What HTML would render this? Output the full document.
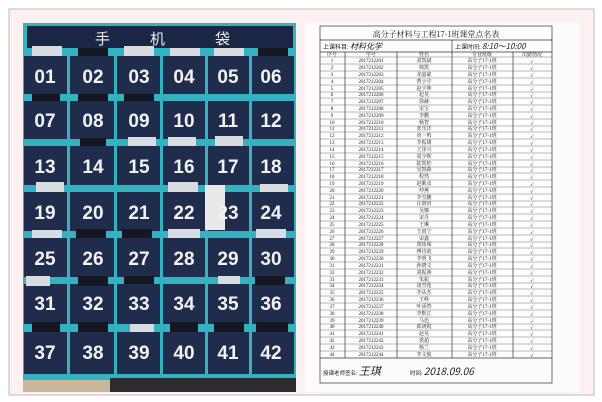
<!DOCTYPE html>
<html><head><meta charset="utf-8"><style>
body{margin:0;width:602px;height:402px;background:#fff;overflow:hidden}
svg{display:block}
.n{font-family:"Liberation Sans",sans-serif;font-weight:bold;font-size:19px;fill:#f2f2f2;text-anchor:middle}
.t{font-family:"Liberation Serif","Noto Serif CJK SC",serif;font-size:5px;fill:#222;text-anchor:middle}
</style></head><body>
<svg width="602" height="402" viewBox="0 0 602 402">
<rect x="9" y="9" width="585" height="386" fill="#fcf0f0" stroke="#bbb" stroke-width="1"/>
<!-- photo -->
<rect x="23" y="23" width="273" height="369" fill="#2a3142"/>
<rect x="23" y="23" width="273" height="357" fill="#33b3c2"/>
<rect x="27" y="26" width="266" height="22" fill="#1b2644"/>
<text x="95" y="44" font-family="Noto Sans CJK SC,sans-serif" font-size="15" fill="#eee">手</text>
<text x="150" y="44" font-family="Noto Sans CJK SC,sans-serif" font-size="15" fill="#eee">机</text>
<text x="215" y="44" font-family="Noto Sans CJK SC,sans-serif" font-size="15" fill="#eee">袋</text>
<g fill="#1f2c4b">
<!-- rows of pockets: y tops 56,101,146,192,238,284,332 height 38 -->
<rect x="24" y="56" width="43" height="38"/><rect x="70" y="56" width="44" height="38"/><rect x="117" y="56" width="43" height="38"/><rect x="163" y="56" width="42" height="38"/><rect x="208" y="56" width="41" height="38"/><rect x="252" y="56" width="42" height="38"/>
<rect x="24" y="101" width="43" height="38"/><rect x="70" y="101" width="44" height="38"/><rect x="117" y="101" width="43" height="38"/><rect x="163" y="101" width="42" height="38"/><rect x="208" y="101" width="41" height="38"/><rect x="252" y="101" width="42" height="38"/>
<rect x="24" y="146" width="43" height="39"/><rect x="70" y="146" width="44" height="39"/><rect x="117" y="146" width="43" height="39"/><rect x="163" y="146" width="42" height="39"/><rect x="208" y="146" width="41" height="39"/><rect x="252" y="146" width="42" height="39"/>
<rect x="24" y="192" width="43" height="39"/><rect x="70" y="192" width="44" height="39"/><rect x="117" y="192" width="43" height="39"/><rect x="163" y="192" width="42" height="39"/><rect x="208" y="192" width="41" height="39"/><rect x="252" y="192" width="42" height="39"/>
<rect x="24" y="238" width="43" height="39"/><rect x="70" y="238" width="44" height="39"/><rect x="117" y="238" width="43" height="39"/><rect x="163" y="238" width="42" height="39"/><rect x="208" y="238" width="41" height="39"/><rect x="252" y="238" width="42" height="39"/>
<rect x="24" y="284" width="43" height="40"/><rect x="70" y="284" width="44" height="40"/><rect x="117" y="284" width="43" height="40"/><rect x="163" y="284" width="42" height="40"/><rect x="208" y="284" width="41" height="40"/><rect x="252" y="284" width="42" height="40"/>
<rect x="24" y="332" width="43" height="42"/><rect x="70" y="332" width="44" height="42"/><rect x="117" y="332" width="43" height="42"/><rect x="163" y="332" width="42" height="42"/><rect x="208" y="332" width="41" height="42"/><rect x="252" y="332" width="42" height="42"/>
</g>
<rect x="23" y="380" width="273" height="12" fill="#c9b79a"/>
<rect x="110" y="378" width="186" height="14" fill="#2b2d33"/>
<!-- phones -->
<g fill="#d8dde2">
<rect x="32" y="46" width="30" height="10"/><rect x="124" y="46" width="30" height="10"/><rect x="170" y="48" width="30" height="8"/><rect x="214" y="48" width="30" height="8"/>
<rect x="128" y="137" width="28" height="9"/><rect x="168" y="137" width="28" height="9"/><rect x="215" y="136" width="28" height="10"/>
<rect x="36" y="182" width="28" height="10"/><rect x="168" y="182" width="30" height="10"/><rect x="260" y="184" width="28" height="8"/>
<rect x="32" y="230" width="30" height="8"/><rect x="168" y="229" width="32" height="9"/><rect x="256" y="229" width="30" height="9"/>
<rect x="26" y="276" width="24" height="10"/><rect x="218" y="276" width="22" height="8"/>
<rect x="130" y="324" width="24" height="8"/>
<rect x="205" y="185" width="20" height="45" fill="#e8eaea"/>
</g>
<g fill="#151820">
<rect x="78" y="48" width="30" height="8"/><rect x="258" y="48" width="30" height="8"/>
<rect x="32" y="94" width="28" height="7"/><rect x="78" y="94" width="30" height="7"/><rect x="124" y="94" width="30" height="7"/>
<rect x="80" y="138" width="26" height="8"/><rect x="76" y="229" width="30" height="9"/><rect x="122" y="229" width="30" height="9"/>
<rect x="78" y="276" width="30" height="10"/><rect x="124" y="276" width="30" height="8"/><rect x="255" y="276" width="30" height="9"/>
<rect x="32" y="322" width="28" height="10"/><rect x="78" y="322" width="30" height="10"/><rect x="170" y="322" width="28" height="10"/><rect x="214" y="322" width="30" height="10"/><rect x="256" y="322" width="32" height="10"/>
</g>
<g class="n">
<text x="45" y="83">01</text><text x="93" y="83">02</text><text x="139" y="83">03</text><text x="184" y="83">04</text><text x="228" y="83">05</text><text x="271" y="83">06</text>
<text x="45" y="127">07</text><text x="93" y="127">08</text><text x="139" y="127">09</text><text x="184" y="127">10</text><text x="228" y="127">11</text><text x="271" y="127">12</text>
<text x="45" y="173">13</text><text x="93" y="173">14</text><text x="139" y="173">15</text><text x="184" y="173">16</text><text x="228" y="173">17</text><text x="271" y="173">18</text>
<text x="45" y="219">19</text><text x="93" y="219">20</text><text x="139" y="219">21</text><text x="184" y="219">22</text><text x="228" y="219">23</text><text x="271" y="219">24</text>
<text x="45" y="265">25</text><text x="93" y="265">26</text><text x="139" y="265">27</text><text x="184" y="265">28</text><text x="228" y="265">29</text><text x="271" y="265">30</text>
<text x="45" y="310">31</text><text x="93" y="310">32</text><text x="139" y="310">33</text><text x="184" y="310">34</text><text x="228" y="310">35</text><text x="271" y="310">36</text>
<text x="45" y="359">37</text><text x="93" y="359">38</text><text x="139" y="359">39</text><text x="184" y="359">40</text><text x="228" y="359">41</text><text x="271" y="359">42</text>
</g>
<!-- paper -->
<rect x="305" y="23" width="275" height="369" fill="#fdfbfb"/>
<g stroke="#333" stroke-width="0.7" fill="none">
<rect x="320" y="26" width="232" height="357"/>
<line x1="320" y1="40" x2="552" y2="40"/><line x1="320" y1="52" x2="552" y2="52"/><line x1="452" y1="40" x2="452" y2="52"/>
<line x1="320" y1="358" x2="552" y2="358"/>
<line x1="345" y1="52" x2="345" y2="358"/><line x1="397" y1="52" x2="397" y2="358"/><line x1="452" y1="52" x2="452" y2="358"/><line x1="513" y1="52" x2="513" y2="358"/>
</g>
<g stroke="#555" stroke-width="0.4">
<line x1="320" y1="57" x2="552" y2="57"/>
<line x1="320" y1="64" x2="552" y2="64"/><line x1="320" y1="71" x2="552" y2="71"/><line x1="320" y1="78" x2="552" y2="78"/><line x1="320" y1="85" x2="552" y2="85"/><line x1="320" y1="92" x2="552" y2="92"/><line x1="320" y1="98" x2="552" y2="98"/><line x1="320" y1="105" x2="552" y2="105"/><line x1="320" y1="112" x2="552" y2="112"/><line x1="320" y1="119" x2="552" y2="119"/><line x1="320" y1="126" x2="552" y2="126"/><line x1="320" y1="132" x2="552" y2="132"/><line x1="320" y1="139" x2="552" y2="139"/><line x1="320" y1="146" x2="552" y2="146"/><line x1="320" y1="153" x2="552" y2="153"/><line x1="320" y1="160" x2="552" y2="160"/><line x1="320" y1="167" x2="552" y2="167"/><line x1="320" y1="173" x2="552" y2="173"/><line x1="320" y1="180" x2="552" y2="180"/><line x1="320" y1="187" x2="552" y2="187"/><line x1="320" y1="194" x2="552" y2="194"/><line x1="320" y1="201" x2="552" y2="201"/><line x1="320" y1="207" x2="552" y2="207"/><line x1="320" y1="214" x2="552" y2="214"/><line x1="320" y1="221" x2="552" y2="221"/><line x1="320" y1="228" x2="552" y2="228"/><line x1="320" y1="235" x2="552" y2="235"/><line x1="320" y1="242" x2="552" y2="242"/><line x1="320" y1="248" x2="552" y2="248"/><line x1="320" y1="255" x2="552" y2="255"/><line x1="320" y1="262" x2="552" y2="262"/><line x1="320" y1="269" x2="552" y2="269"/><line x1="320" y1="276" x2="552" y2="276"/><line x1="320" y1="283" x2="552" y2="283"/><line x1="320" y1="289" x2="552" y2="289"/><line x1="320" y1="296" x2="552" y2="296"/><line x1="320" y1="303" x2="552" y2="303"/><line x1="320" y1="310" x2="552" y2="310"/><line x1="320" y1="317" x2="552" y2="317"/><line x1="320" y1="324" x2="552" y2="324"/><line x1="320" y1="330" x2="552" y2="330"/><line x1="320" y1="337" x2="552" y2="337"/><line x1="320" y1="344" x2="552" y2="344"/><line x1="320" y1="351" x2="552" y2="351"/>
</g>
<text x="436" y="37" font-family="Noto Serif CJK SC,serif" font-size="8" fill="#222" text-anchor="middle">高分子材料与工程17-1班课堂点名表</text>
<text x="323" y="49" font-family="Noto Sans CJK SC,sans-serif" font-size="6" fill="#222">上课科目: <tspan font-size="8" font-style="italic">材料化学</tspan></text>
<text x="455" y="49" font-family="Noto Sans CJK SC,sans-serif" font-size="6" fill="#222">上课时间: <tspan font-size="8" font-style="italic">8:10～10:00</tspan></text>
<g class="t" font-size="4.5">
<text x="332" y="56">序号</text><text x="371" y="56">学号</text><text x="424" y="56">姓名</text><text x="482" y="56">专业班级</text><text x="532" y="56">出勤情况</text>
</g>
<g class="t">
<text x="332" y="62">1</text><text x="332" y="69">2</text><text x="332" y="76">3</text><text x="332" y="83">4</text><text x="332" y="90">5</text><text x="332" y="96">6</text><text x="332" y="103">7</text><text x="332" y="110">8</text><text x="332" y="117">9</text><text x="332" y="124">10</text><text x="332" y="130">11</text><text x="332" y="137">12</text><text x="332" y="144">13</text><text x="332" y="151">14</text><text x="332" y="158">15</text><text x="332" y="165">16</text><text x="332" y="171">17</text><text x="332" y="178">18</text><text x="332" y="185">19</text><text x="332" y="192">20</text><text x="332" y="199">21</text><text x="332" y="205">22</text><text x="332" y="212">23</text><text x="332" y="219">24</text><text x="332" y="226">25</text><text x="332" y="233">26</text><text x="332" y="240">27</text><text x="332" y="246">28</text><text x="332" y="253">29</text><text x="332" y="260">30</text><text x="332" y="267">31</text><text x="332" y="274">32</text><text x="332" y="281">33</text><text x="332" y="287">34</text><text x="332" y="294">35</text><text x="332" y="301">36</text><text x="332" y="308">37</text><text x="332" y="315">38</text><text x="332" y="322">39</text><text x="332" y="328">40</text><text x="332" y="335">41</text><text x="332" y="342">42</text><text x="332" y="349">43</text><text x="332" y="356">44</text>
<text x="371" y="62">2017212201</text><text x="371" y="69">2017212202</text><text x="371" y="76">2017212203</text><text x="371" y="83">2017212204</text><text x="371" y="90">2017212205</text><text x="371" y="96">2017212206</text><text x="371" y="103">2017212207</text><text x="371" y="110">2017212208</text><text x="371" y="117">2017212209</text><text x="371" y="124">2017212210</text><text x="371" y="130">2017212211</text><text x="371" y="137">2017212212</text><text x="371" y="144">2017212213</text><text x="371" y="151">2017212214</text><text x="371" y="158">2017212215</text><text x="371" y="165">2017212216</text><text x="371" y="171">2017212217</text><text x="371" y="178">2017212218</text><text x="371" y="185">2017212219</text><text x="371" y="192">2017212220</text><text x="371" y="199">2017212221</text><text x="371" y="205">2017212222</text><text x="371" y="212">2017212223</text><text x="371" y="219">2017212224</text><text x="371" y="226">2017212225</text><text x="371" y="233">2017212226</text><text x="371" y="240">2017212227</text><text x="371" y="246">2017212228</text><text x="371" y="253">2017212229</text><text x="371" y="260">2017212230</text><text x="371" y="267">2017212231</text><text x="371" y="274">2017212232</text><text x="371" y="281">2017212233</text><text x="371" y="287">2017212234</text><text x="371" y="294">2017212235</text><text x="371" y="301">2017212236</text><text x="371" y="308">2017212237</text><text x="371" y="315">2017212238</text><text x="371" y="322">2017212239</text><text x="371" y="328">2017212240</text><text x="371" y="335">2017212241</text><text x="371" y="342">2017212242</text><text x="371" y="349">2017212243</text><text x="371" y="356">2017212244</text>
<text x="424" y="62">刘凯斌</text><text x="424" y="69">韩凯</text><text x="424" y="76">龙嘉豪</text><text x="424" y="83">曹小宇</text><text x="424" y="90">赵宇坤</text><text x="424" y="96">起昊</text><text x="424" y="103">徐赫</text><text x="424" y="110">宋宝</text><text x="424" y="117">李鹏</text><text x="424" y="124">杨智</text><text x="424" y="130">张乐洋</text><text x="424" y="137">章一鸣</text><text x="424" y="144">李振雄</text><text x="424" y="151">王泽兴</text><text x="424" y="158">周少辉</text><text x="424" y="165">陆凯伦</text><text x="424" y="171">吴凯森</text><text x="424" y="178">程然</text><text x="424" y="185">赵紫彦</text><text x="424" y="192">仲燕</text><text x="424" y="199">李雪鹏</text><text x="424" y="205">汪润田</text><text x="424" y="212">吴娜</text><text x="424" y="219">宋丹</text><text x="424" y="226">王琳</text><text x="424" y="233">王雨宁</text><text x="424" y="240">宋鑫</text><text x="424" y="246">郑炜琛</text><text x="424" y="253">傅诗韵</text><text x="424" y="260">李明飞</text><text x="424" y="267">孙晓文</text><text x="424" y="274">刘振洲</text><text x="424" y="281">朱振</text><text x="424" y="287">汤雪莲</text><text x="424" y="294">李从杰</text><text x="424" y="301">王峥</text><text x="424" y="308">叶添然</text><text x="424" y="315">李默江</text><text x="424" y="322">马迅</text><text x="424" y="328">邱庚锐</text><text x="424" y="335">赵昊</text><text x="424" y="342">裘超</text><text x="424" y="349">杨兰</text><text x="424" y="356">李文俊</text>
</g>
<g class="t" font-family="Noto Sans CJK SC,sans-serif">
<text x="482" y="62">高分子17-1班</text><text x="482" y="69">高分子17-1班</text><text x="482" y="76">高分子17-1班</text><text x="482" y="83">高分子17-1班</text><text x="482" y="90">高分子17-1班</text><text x="482" y="96">高分子17-1班</text><text x="482" y="103">高分子17-1班</text><text x="482" y="110">高分子17-1班</text><text x="482" y="117">高分子17-1班</text><text x="482" y="124">高分子17-1班</text><text x="482" y="130">高分子17-1班</text><text x="482" y="137">高分子17-1班</text><text x="482" y="144">高分子17-1班</text><text x="482" y="151">高分子17-1班</text><text x="482" y="158">高分子17-1班</text><text x="482" y="165">高分子17-1班</text><text x="482" y="171">高分子17-1班</text><text x="482" y="178">高分子17-1班</text><text x="482" y="185">高分子17-1班</text><text x="482" y="192">高分子17-1班</text><text x="482" y="199">高分子17-1班</text><text x="482" y="205">高分子17-1班</text><text x="482" y="212">高分子17-1班</text><text x="482" y="219">高分子17-1班</text><text x="482" y="226">高分子17-1班</text><text x="482" y="233">高分子17-1班</text><text x="482" y="240">高分子17-1班</text><text x="482" y="246">高分子17-1班</text><text x="482" y="253">高分子17-1班</text><text x="482" y="260">高分子17-1班</text><text x="482" y="267">高分子17-1班</text><text x="482" y="274">高分子17-1班</text><text x="482" y="281">高分子17-1班</text><text x="482" y="287">高分子17-1班</text><text x="482" y="294">高分子17-1班</text><text x="482" y="301">高分子17-1班</text><text x="482" y="308">高分子17-1班</text><text x="482" y="315">高分子17-1班</text><text x="482" y="322">高分子17-1班</text><text x="482" y="328">高分子17-1班</text><text x="482" y="335">高分子17-1班</text><text x="482" y="342">高分子17-1班</text><text x="482" y="349">高分子17-1班</text><text x="482" y="356">高分子17-1班</text>
</g>
<g class="t" font-size="8" font-family="DejaVu Sans,sans-serif">
<text x="532" y="63">✓</text><text x="532" y="70">✓</text><text x="532" y="77">✓</text><text x="532" y="84">✓</text><text x="532" y="91">✓</text><text x="532" y="97">✓</text><text x="532" y="104">✓</text><text x="532" y="111">✓</text><text x="532" y="118">✓</text><text x="532" y="125">✓</text><text x="532" y="131">✓</text><text x="532" y="138">✓</text><text x="532" y="145">✓</text><text x="532" y="152">✓</text><text x="532" y="159">✓</text><text x="532" y="166">✓</text><text x="532" y="172">✓</text><text x="532" y="179">✓</text><text x="532" y="186">✓</text><text x="532" y="193">✓</text><text x="532" y="200">✓</text><text x="532" y="206">✓</text><text x="532" y="213">✓</text><text x="532" y="220">✓</text><text x="532" y="227">✓</text><text x="532" y="234">✓</text><text x="532" y="241">✓</text><text x="532" y="247">✓</text><text x="532" y="254">✓</text><text x="532" y="261">✓</text><text x="532" y="268">✓</text><text x="532" y="275">✓</text><text x="532" y="282">✓</text><text x="532" y="288">✓</text><text x="532" y="295">✓</text><text x="532" y="302">✓</text><text x="532" y="309">✓</text><text x="532" y="316">✓</text><text x="532" y="323">✓</text><text x="532" y="329">✓</text><text x="532" y="336">✓</text><text x="532" y="343">✓</text><text x="532" y="350">✓</text><text x="532" y="357">✓</text>
</g>
<text x="323" y="375" font-family="Noto Sans CJK SC,sans-serif" font-size="5.5" fill="#222">授课老师签名: <tspan font-size="11" font-style="italic">王琪</tspan></text>
<text x="410" y="375" font-family="Noto Sans CJK SC,sans-serif" font-size="5.5" fill="#222">时间: <tspan font-size="10" font-style="italic">2018.09.06</tspan></text>
</svg>
</body></html>
